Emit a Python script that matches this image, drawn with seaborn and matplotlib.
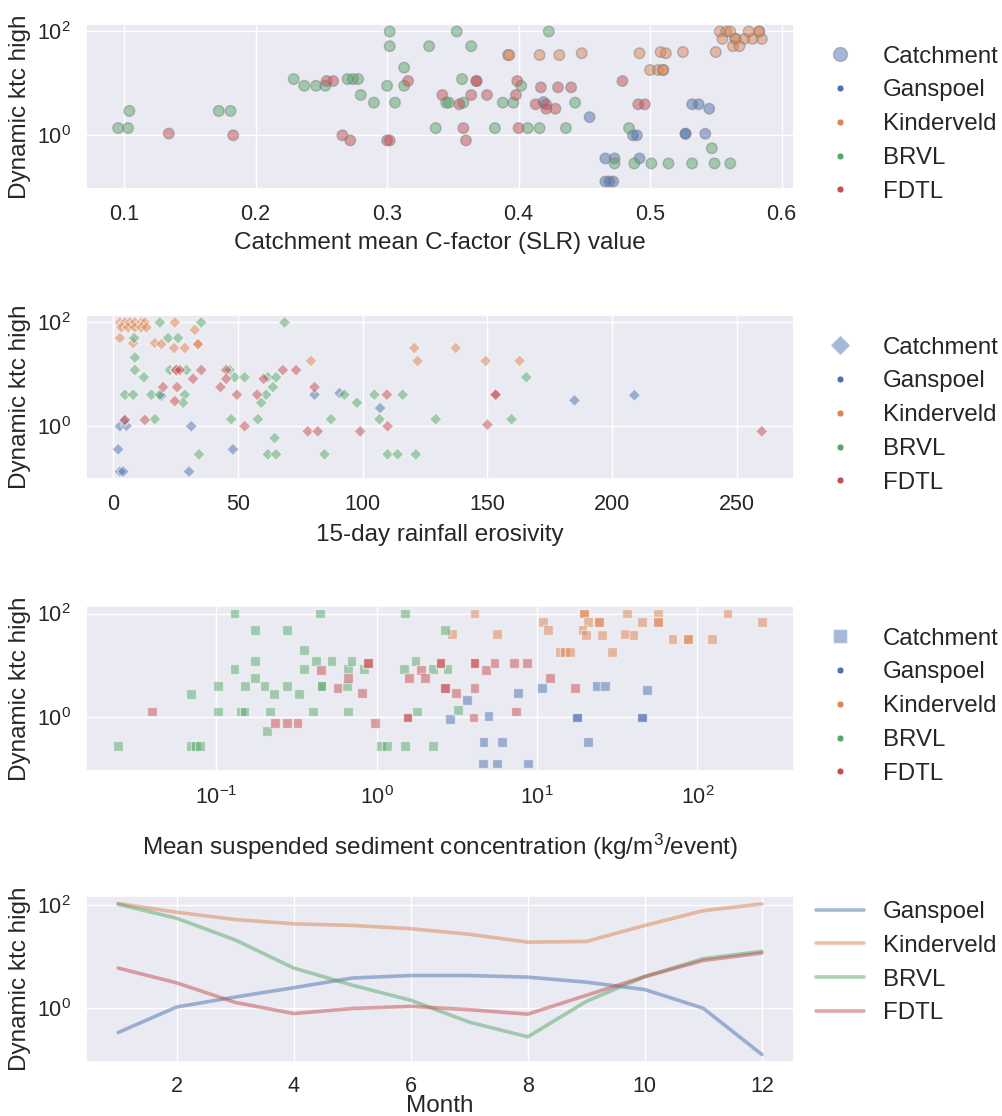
import numpy as np
import pandas as pd
import seaborn as sns
import matplotlib.pyplot as plt
from matplotlib.lines import Line2D
from matplotlib.colors import to_rgba

# ---------------- data ----------------
catchments = ["Ganspoel", "Kinderveld", "BRVL", "FDTL"]

# Panel 1: catchment mean C-factor vs dynamic ktc high
cf_gans_x = [0.419, 0.454, 0.466, 0.473, 0.492, 0.466, 0.469, 0.472, 0.487, 0.490, 0.527, 0.527, 0.542, 0.532, 0.537, 0.545]
cf_gans_y = [4.3, 2.2, 0.35, 0.35, 0.35, 0.125, 0.125, 0.125, 0.98, 0.98, 1.05, 1.05, 1.05, 3.9, 3.9, 3.2]
cf_kind_x = [0.392, 0.393, 0.416, 0.431, 0.448, 0.492, 0.508, 0.512, 0.525, 0.550, 0.500, 0.506, 0.510, 0.510,
             0.553, 0.558, 0.561, 0.555, 0.565, 0.565, 0.572, 0.578, 0.585, 0.575, 0.583, 0.583, 0.563, 0.568]
cf_kind_y = [35, 35, 35, 35, 38, 38, 40, 38, 40, 40, 18, 18, 18, 18,
             100, 100, 100, 72, 72, 72, 72, 72, 72, 100, 100, 100, 52, 52]
cf_brvl_x = [0.0955, 0.103, 0.104, 0.172, 0.181, 0.229, 0.237, 0.246, 0.253, 0.270, 0.274, 0.278, 0.280, 0.290,
             0.300, 0.302, 0.302, 0.306, 0.313, 0.313, 0.332, 0.337, 0.353, 0.345, 0.347, 0.357, 0.358, 0.364,
             0.382, 0.388, 0.396, 0.402, 0.407, 0.416, 0.423, 0.436, 0.443, 0.484, 0.473, 0.488, 0.501, 0.514,
             0.532, 0.549, 0.561, 0.547]
cf_brvl_y = [1.35, 1.35, 2.9, 2.9, 2.9, 12, 8.9, 8.9, 8.9, 12, 12, 12, 5.9, 4.2,
             8.9, 100, 52, 4.2, 20, 8.9, 52, 1.35, 100, 4.2, 4.2, 12, 4.2, 52,
             1.35, 4.2, 4.2, 8.9, 1.35, 1.35, 100, 1.35, 4.2, 1.35, 0.28, 0.28, 0.28, 0.28,
             0.28, 0.28, 0.28, 0.55]
cf_fdtl_x = [0.134, 0.183, 0.254, 0.259, 0.266, 0.272, 0.300, 0.302, 0.316, 0.342, 0.355, 0.358, 0.360, 0.364,
             0.368, 0.368, 0.376, 0.398, 0.399, 0.400, 0.413, 0.421, 0.417, 0.421, 0.428, 0.430, 0.440, 0.479,
             0.491, 0.496]
cf_fdtl_y = [1.06, 0.98, 11, 11, 0.98, 0.78, 0.78, 0.78, 11, 5.9, 3.9, 1.35, 0.78, 5.9,
             11, 11, 5.9, 5.9, 11, 1.35, 3.9, 3.9, 8.3, 3.2, 3.2, 8.3, 8.3, 11,
             3.9, 3.9]

# Panel 2: 15-day rainfall erosivity vs dynamic ktc high
er_gans_x = [2, 2.7, 4, 2.7, 5.3, 4.4, 19.3, 31.3, 30.4, 48, 80.7, 90.7, 107, 184.9, 208.9]
er_gans_y = [0.35, 0.13, 0.13, 0.98, 1.0, 1.25, 3.8, 0.98, 0.13, 0.35, 4.0, 4.3, 2.2, 3.1, 3.9]
er_kind_x = [2.7, 4.7, 6.7, 8.7, 11.3, 12.7, 3.3, 6, 8.7, 11.3, 13.3, 2.7, 8, 16.7, 19.3, 24.7, 24.4, 28.7,
             32.7, 34, 34, 79.3, 120.7, 122, 137.3, 149.3, 162.9]
er_kind_y = [100, 100, 100, 100, 100, 100, 80, 80, 80, 80, 80, 50, 40, 40, 38, 100, 32, 32,
             72, 38, 38, 18, 32, 18, 32, 18, 18]
er_brvl_x = [8.4, 18.7, 22, 26, 35.3, 68.7, 8.7, 8.7, 12.3, 4.7, 8, 15.3, 18.7, 16.7, 22.7, 25.3, 28.7, 29.3,
             28, 34.4, 46.7, 48.7, 52.7, 47.3, 58, 59.3, 61.3, 62, 65.3, 64, 64.7, 62, 65.3, 84.7, 87.3,
             92.7, 97.7, 104.7, 106.7, 110, 114, 116, 121.3, 129.3, 165.6, 159.7]
er_brvl_y = [50, 100, 50, 50, 100, 100, 21, 12, 8.7, 4, 4, 4, 4, 1.34, 12, 12, 4, 12,
             2.8, 0.28, 12, 8.7, 8.7, 1.34, 1.34, 2.8, 4, 8.7, 8.7, 5.6, 0.58, 0.28, 0.28, 0.28, 1.34,
             4, 2.8, 4, 1.34, 0.28, 0.28, 4, 0.28, 1.34, 8.7, 1.34]
er_fdtl_x = [4.7, 12.7, 20, 25.3, 25.3, 25.6, 24.7, 26.7, 32, 35.3, 43, 45.3, 45.3, 49.6, 52.7, 57.7, 60.3,
             68, 73.3, 78, 82, 80.7, 99, 109.7, 110, 150, 153.3, 153.3, 260]
er_fdtl_y = [1.3, 1.3, 5.6, 12, 12, 5.6, 3, 12, 8.1, 12, 5.6, 12, 8.1, 4, 0.98, 4, 8.1,
             12, 12, 0.78, 0.78, 5.6, 0.78, 4, 0.98, 1.05, 4, 4, 0.78]

# Panel 3: mean suspended sediment concentration vs dynamic ktc high
ss_gans_x = [2.88, 3.66, 4.64, 4.6, 4.99, 5.6, 6.04, 8.8, 7.6, 10.8, 17.8, 17.8, 20.8, 23.5, 26.4, 45, 45, 48.4]
ss_gans_y = [0.95, 2.2, 0.34, 0.13, 1.05, 0.13, 0.34, 0.13, 3.0, 3.7, 1.0, 1.0, 0.34, 4.1, 4.1, 1.0, 1.0, 3.4]
ss_kind_x = [2.95, 4.08, 5.6, 10.9, 11.7, 13.9, 14.9, 16.0, 19.7, 19.7, 20.8, 19.2, 20.2, 24.3, 24.3, 25.5,
             29.5, 36.6, 35.2, 40, 45, 56.6, 56.6, 56.6, 70, 87, 87, 123, 154, 252]
ss_kind_y = [40, 100, 40, 68, 49, 18, 18, 18, 100, 100, 68, 49, 38, 68, 68, 38,
             18, 100, 40, 38, 68, 100, 68, 68, 32, 32, 32, 32, 100, 68]
ss_brvl_x = [0.0245, 0.070, 0.075, 0.079, 0.070, 0.103, 0.103, 0.130, 0.130, 0.143, 0.150, 0.152, 0.175,
             0.175, 0.175, 0.200, 0.217, 0.207, 0.228, 0.276, 0.276, 0.329, 0.351, 0.353, 0.40, 0.42, 0.445,
             0.453, 0.453, 0.523, 0.657, 0.663, 0.663, 0.697, 0.833, 1.06, 1.16, 1.51, 1.51, 1.48, 1.75,
             1.79, 2.24, 2.24, 2.68, 2.77, 3.22]
ss_brvl_y = [0.28, 0.28, 0.28, 0.28, 2.8, 4.1, 1.3, 100, 8.7, 1.3, 1.3, 4.1, 49,
             12, 5.7, 4.1, 1.3, 0.54, 2.8, 49, 4.1, 2.8, 20, 8.7, 1.3, 12, 100,
             4.1, 4.1, 12, 4.1, 1.3, 8.7, 12, 8.7, 0.28, 0.28, 100, 0.28, 8.7, 12,
             1.3, 8.7, 0.28, 49, 8.7, 1.4]
ss_fdtl_x = [0.040, 0.232, 0.276, 0.321, 0.449, 0.570, 0.667, 0.807, 0.888, 0.888, 0.976, 1.56, 1.56, 1.59,
             1.90, 2.0, 2.50, 2.50, 2.68, 2.68, 3.12, 4.08, 4.08, 4.08, 4.02, 4.82, 5.43, 7.2, 8.7, 12.0,
             17.3, 7.4]
ss_fdtl_y = [1.3, 0.77, 0.77, 0.77, 8.1, 3.7, 5.7, 3.0, 11, 11, 0.77, 1.0, 1.0, 5.7,
             8.1, 5.7, 11, 11, 3.7, 3.7, 3.0, 11, 11, 3.7, 1.0, 8.1, 11, 11, 11, 5.7,
             3.7, 1.3]

# Panel 4: monthly dynamic ktc high
months = list(range(1, 13))
m_gans = [0.34, 1.06, 1.65, 2.5, 3.85, 4.3, 4.3, 4.0, 3.2, 2.3, 1.0, 0.128]
m_kind = [106, 72, 52, 43, 40, 34.5, 27, 19, 19.6, 40, 77, 104]
m_brvl = [103, 55, 21, 6.0, 2.8, 1.43, 0.54, 0.28, 1.36, 4.1, 9.1, 12.6]
m_fdtl = [6.0, 3.1, 1.3, 0.79, 0.99, 1.09, 0.94, 0.77, 1.78, 4.1, 8.4, 11.7]

xlabels = ["Catchment mean C-factor (SLR) value",
           "15-day rainfall erosivity",
           "Mean suspended sediment concentration (kg/m$^3$/event)",
           "Month"]
ylabel = "Dynamic ktc high"

# ---------------- build tables ----------------
def table(xs, ys):
    frames = []
    for name, x, y in zip(catchments, xs, ys):
        frames.append(pd.DataFrame({"x": x, "y": y, "Catchment": name}))
    return pd.concat(frames, ignore_index=True)

df1 = table([cf_gans_x, cf_kind_x, cf_brvl_x, cf_fdtl_x], [cf_gans_y, cf_kind_y, cf_brvl_y, cf_fdtl_y])
df2 = table([er_gans_x, er_kind_x, er_brvl_x, er_fdtl_x], [er_gans_y, er_kind_y, er_brvl_y, er_fdtl_y])
df3 = table([ss_gans_x, ss_kind_x, ss_brvl_x, ss_fdtl_x], [ss_gans_y, ss_kind_y, ss_brvl_y, ss_fdtl_y])
df4 = pd.concat([pd.DataFrame({"Month": months, "ktc": v, "Catchment": n})
                 for n, v in zip(catchments, [m_gans, m_kind, m_brvl, m_fdtl])], ignore_index=True)

# ---------------- style ----------------
sns.set_theme(style="darkgrid")
plt.rcParams["font.family"] = ["Liberation Sans", "DejaVu Sans"]
plt.rcParams["mathtext.fontset"] = "custom"
plt.rcParams["mathtext.rm"] = "Liberation Sans"
plt.rcParams["mathtext.it"] = "Liberation Sans:italic"
plt.rcParams["mathtext.bf"] = "Liberation Sans:bold"
pal = sns.color_palette("deep", 4)

TICK = 15.5
LAB = 17.5
LEG = 17.3

fig = plt.figure(figsize=(10.03, 11.16), dpi=100)
W, H = 1003, 1116
boxes = [(24, 189), (315, 479), (606, 771), (896, 1062)]
axes = []
for top, bot in boxes:
    axes.append(fig.add_axes([86 / W, 1 - bot / H, (794 - 86) / W, (bot - top) / H]))

markers = ["o", "D", "s"]
sizes = [58, 38, 50]
edges = ["grey", "white", "white"]
for ax, df, mk, sz, ec in zip(axes[:3], [df1, df2, df3], markers, sizes, edges):
    sns.scatterplot(data=df, x="x", y="y", hue="Catchment", hue_order=catchments, palette=pal,
                    marker=mk, s=sz, alpha=0.5, edgecolor=ec, linewidth=1, ax=ax, legend=False)
    handles = [Line2D([], [], ls="", marker=mk, markersize=10,
                      markerfacecolor=to_rgba(pal[0], 0.5), markeredgecolor=to_rgba(ec, 0.5),
                      markeredgewidth=1)]
    for c in pal:
        handles.append(Line2D([], [], ls="", marker="o", markersize=5, markerfacecolor=c,
                              markeredgecolor="white", markeredgewidth=0.5))
    ax.legend(handles, ["Catchment"] + catchments, loc="upper left", bbox_to_anchor=(1.0, 1.0),
              frameon=False, fontsize=LEG, labelspacing=0.49)

axes[2].set_xscale("log")

sns.lineplot(data=df4, x="Month", y="ktc", hue="Catchment", hue_order=catchments, palette=pal,
             alpha=0.5, linewidth=2.6, ax=axes[3])
axes[3].legend(loc="upper left", bbox_to_anchor=(1.0, 1.1), frameon=False, fontsize=LEG,
               labelspacing=0.49)

labelpads = [5, 6, 16, -1.5]
tickpads = [5, 5, 5, 4]
for ax, xl, lp, tp in zip(axes, xlabels, labelpads, tickpads):
    ax.set_yscale("log")
    ax.set_yticks([1, 100])
    ax.set_xlabel(xl, fontsize=LAB, labelpad=lp)
    ax.set_ylabel(ylabel, fontsize=LAB)
    ax.tick_params(labelsize=TICK, pad=5)
    ax.tick_params(axis="x", pad=tp)

fig.savefig("out.png", dpi=100)
